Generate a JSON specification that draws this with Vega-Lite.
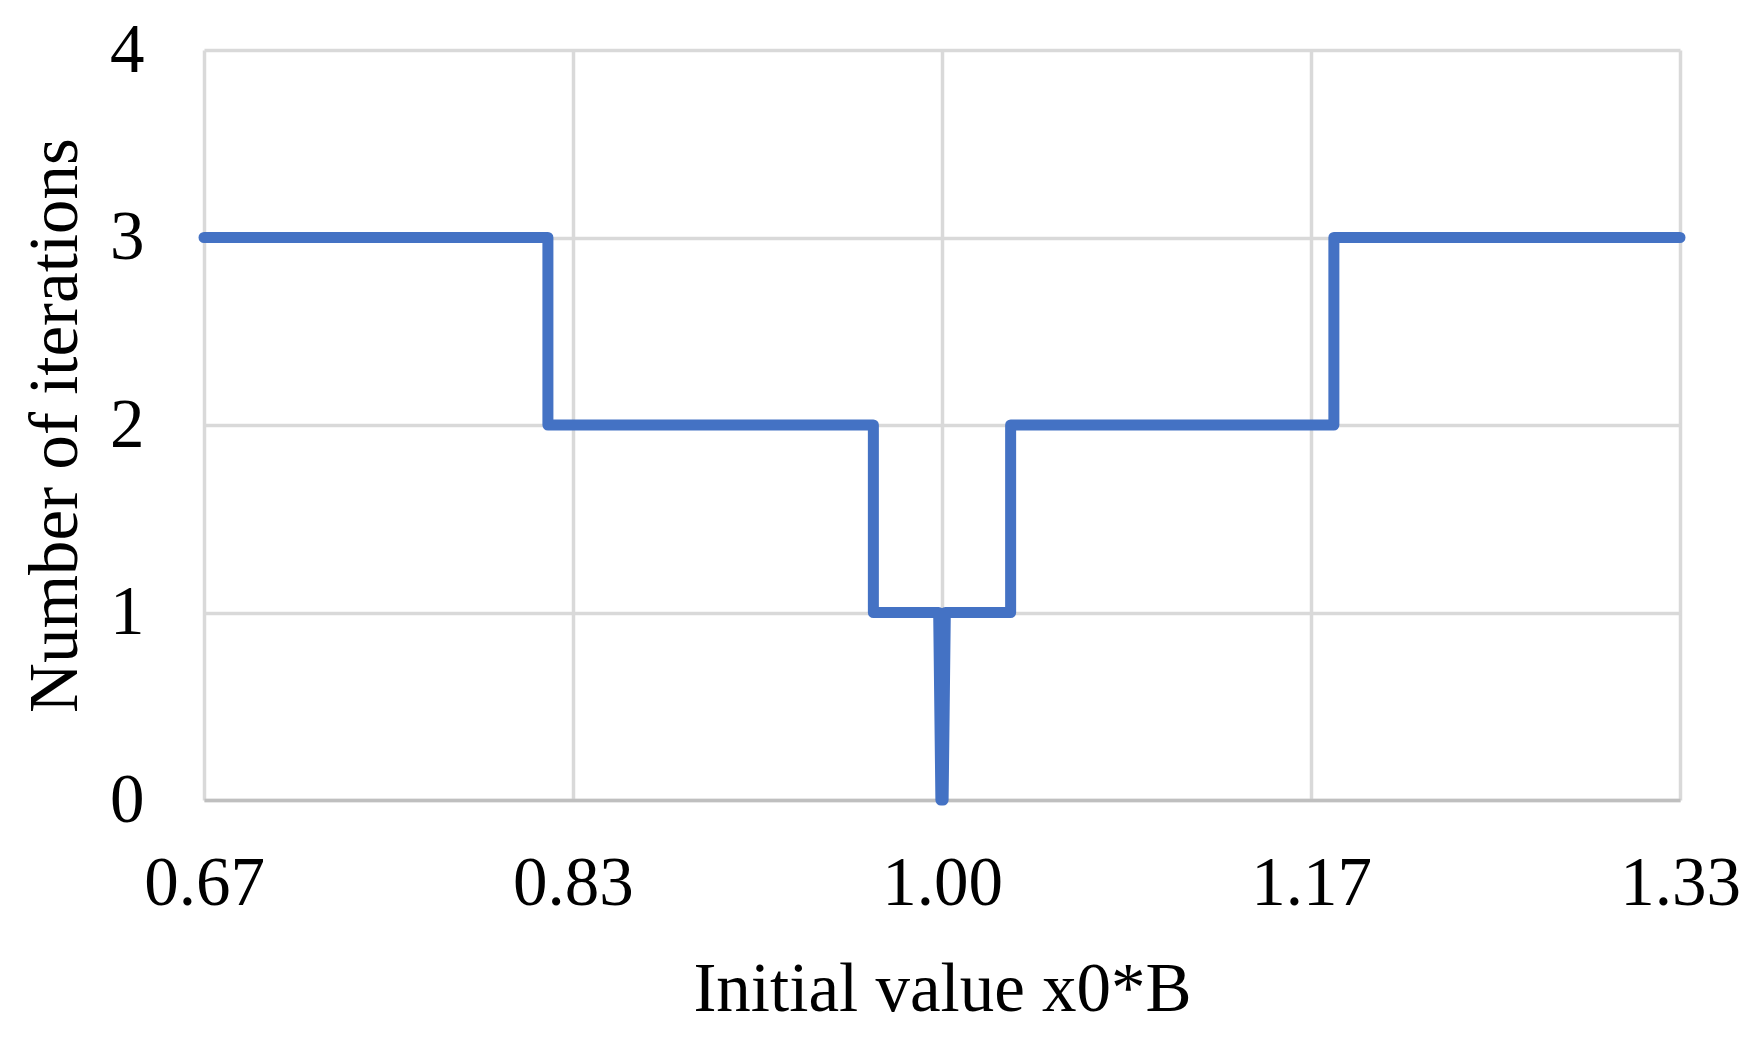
{
  "$schema": "https://vega.github.io/schema/vega-lite/v6.json",
  "width": 1476,
  "height": 750,
  "autosize": {"type": "none"},
  "padding": {"left": 204, "top": 50, "right": 70, "bottom": 238},
  "background": "white",
  "config": {"view": {"stroke": null}, "font": "Liberation Serif"},
  "data": {
    "values": [
      {"i": 0, "x": 0.666667, "y": 3},
      {"i": 1, "x": 0.822, "y": 3},
      {"i": 2, "x": 0.822, "y": 2},
      {"i": 3, "x": 0.969, "y": 2},
      {"i": 4, "x": 0.969, "y": 1},
      {"i": 5, "x": 0.9985, "y": 1},
      {"i": 6, "x": 0.9995, "y": 0},
      {"i": 7, "x": 1.0005, "y": 0},
      {"i": 8, "x": 1.0015, "y": 1},
      {"i": 9, "x": 1.031, "y": 1},
      {"i": 10, "x": 1.031, "y": 2},
      {"i": 11, "x": 1.177, "y": 2},
      {"i": 12, "x": 1.177, "y": 3},
      {"i": 13, "x": 1.333333, "y": 3}
    ]
  },
  "mark": {"type": "line", "stroke": "#4472C4", "strokeWidth": 11, "strokeJoin": "round", "strokeCap": "round", "clip": false},
  "encoding": {
    "x": {
      "field": "x",
      "type": "quantitative",
      "scale": {"domain": [0.666667, 1.333333], "nice": false, "zero": false},
      "axis": {
        "values": [0.666667, 0.833333, 1, 1.166667, 1.333333],
        "format": ".2f",
        "title": "Initial value x0*B",
        "grid": true,
        "gridColor": "#D9D9D9",
        "gridWidth": 3.5,
        "domainColor": "#BFBFBF",
        "domainWidth": 3.5,
        "ticks": false,
        "tickSize": 0,
        "labelFont": "Liberation Serif",
        "labelFontSize": 69,
        "labelColor": "#000000",
        "labelBaseline": "alphabetic",
        "labelPadding": 104,
        "labelFlush": false,
        "labelOverlap": false,
        "titleFont": "Liberation Serif",
        "titleFontSize": 69,
        "titleFontWeight": "normal",
        "titleColor": "#000000",
        "titleX": 738,
        "titleY": 210,
        "titleBaseline": "alphabetic",
        "titleAlign": "center"
      }
    },
    "y": {
      "field": "y",
      "type": "quantitative",
      "scale": {"domain": [0, 4], "nice": false},
      "axis": {
        "values": [0, 1, 2, 3, 4],
        "format": "d",
        "title": "Number of iterations",
        "grid": true,
        "gridColor": "#D9D9D9",
        "gridWidth": 3.5,
        "domain": false,
        "ticks": false,
        "tickSize": 0,
        "labelFont": "Liberation Serif",
        "labelFontSize": 69,
        "labelColor": "#000000",
        "labelBaseline": "middle",
        "labelPadding": 60,
        "labelFlush": false,
        "labelOverlap": false,
        "titleFont": "Liberation Serif",
        "titleFontSize": 69,
        "titleFontWeight": "normal",
        "titleColor": "#000000",
        "titleAngle": -90,
        "titleX": -128,
        "titleY": 375,
        "titleBaseline": "alphabetic",
        "titleAlign": "center"
      }
    },
    "order": {"field": "i", "type": "quantitative"}
  }
}
